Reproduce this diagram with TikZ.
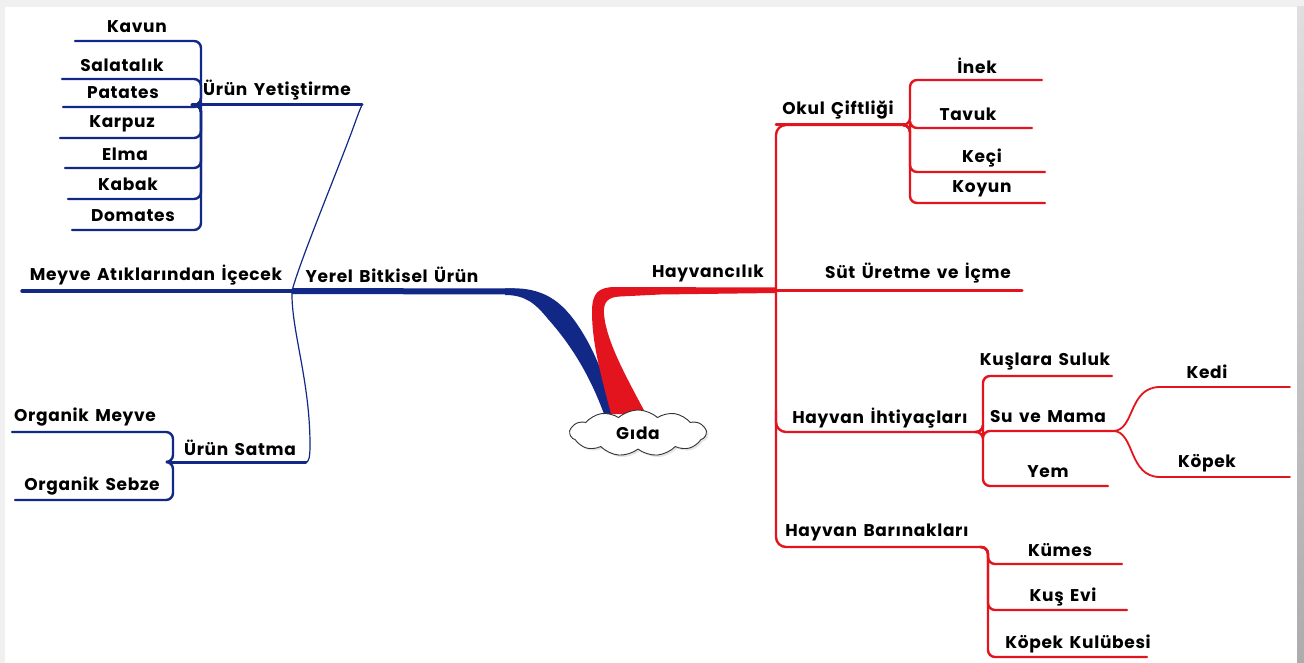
\documentclass[tikz,border=0pt]{standalone}
\usepackage{fontspec}
\setmainfont{Poppins}[LetterSpace=4, WordSpace=1.5]
\usetikzlibrary{shapes.symbols,calc,shadows}
\definecolor{navy}{RGB}{18,40,135}
\definecolor{rouge}{RGB}{228,20,30}
\begin{document}
\begin{tikzpicture}[x=1pt,y=-1pt,
  lbl/.style={font=\fontsize{17}{17}\selectfont\bfseries, inner sep=0pt},
  bl/.style={draw=navy, line width=2.4pt, line cap=round},
  rl/.style={draw=rouge, line width=2.4pt, line cap=round},
  brace/.style={rounded corners=7pt},
]
\useasboundingbox (0,0) rectangle (1304,663);
% page frame
\fill[gray!12] (0,0) rectangle (1304,663);
\fill[white] (5,7) rectangle (1297,663);
\shade[top color=gray!25, bottom color=gray!65] (1297,7) rectangle (1304,663);

% ---------- coordinates of the topic lines ----------
\coordinate (yerelL) at (292,291);
\coordinate (meyveIcL) at (22,291);
\coordinate (yetL) at (192,105);   \coordinate (yetR) at (362,105);
\coordinate (satL) at (170,462);   \coordinate (satR) at (306,462);
\coordinate (kavunL) at (75,41);
\coordinate (salatalikL) at (62,79);
\coordinate (patatesL) at (63,107);
\coordinate (karpuzL) at (60,138);
\coordinate (elmaL) at (65,168);
\coordinate (kabakL) at (68,199);
\coordinate (domatesL) at (72,230);
\coordinate (orgMeyveL) at (12,432);
\coordinate (orgSebzeL) at (15,500);

\coordinate (hayR) at (776,290);
\coordinate (trunkTop) at (776,125);
\coordinate (trunkBot) at (776,547);
\coordinate (okulR) at (905,125);
\coordinate (sutR) at (1022,290);
\coordinate (ihtJ) at (776,410);
\coordinate (ihtR) at (975,432);
\coordinate (barR) at (980,547);
\coordinate (inekR) at (1042,80);
\coordinate (tavukR) at (1032,128);
\coordinate (keciR) at (1045,172);
\coordinate (koyunR) at (1045,203);
\coordinate (sulukR) at (1112,376);
\coordinate (mamaR) at (1113,431);
\coordinate (yemR) at (1108,486);
\coordinate (kediR) at (1290,387);
\coordinate (kopekR) at (1290,477);
\coordinate (kumesR) at (1122,564);
\coordinate (kusevR) at (1127,610);
\coordinate (kulubeR) at (1147,657);

% ---------- main branches from the centre ----------
\draw[navy, line width=6pt] (yerelL) -- (515,291.5);
\fill[navy] (505,288.3) -- (513,288.3) .. controls (548,288.3) and (566,305) .. (584,335)
  .. controls (600,362) and (608,390) .. (616,414)
  -- (604,414) .. controls (590,376) and (572,346) .. (548,319)
  .. controls (535,303) and (525,295) .. (505,295) -- cycle;
\fill[rouge] (611,414) .. controls (600,372) and (592,342) .. (592,312)
  .. controls (592,293) and (598,287) .. (616,287) -- (hayR |- 0,287.5)
  -- (hayR |- 0,293) -- (660,294.5) -- (620,296.5)
  .. controls (608,297) and (603,302) .. (604,314)
  .. controls (606,340) and (625,375) .. (646,414) -- cycle;

\node[cloud, cloud puffs=11, cloud puff arc=85, aspect=3, draw=black!80,
  line width=0.9pt, fill=white, minimum width=136pt, minimum height=46pt,
  drop shadow={opacity=0.2, shadow xshift=2pt, shadow yshift=-2pt},
  font=\fontsize{17}{17}\selectfont\bfseries] (gida) at (638,433) {Gıda};

% ---------- left side ----------
\draw[bl, line width=3.4pt] (yerelL) -- (meyveIcL);
\draw[navy, line width=1.2pt] (yerelL) .. controls (300,260) and (342,160) .. (356,120)
  .. controls (360,109) and (362,105) .. (yetR);
\draw[navy, line width=1.2pt] (yerelL) .. controls (291,330) and (310,380) .. (310,445)
  .. controls (310,457) and (309,462) .. (satR);
\draw[bl, line width=3pt] (yetL) -- (yetR);
\draw[bl, line width=3pt] (satL) -- (satR);
\foreach \c in {kavunL,salatalikL,patatesL,karpuzL,elmaL,kabakL,domatesL}
  \draw[bl, brace] (yetL) -- ++(9,0) |- (\c);
\foreach \c in {orgMeyveL,orgSebzeL}
  \draw[bl, brace] (satL) -- ++(3,0) |- (\c);

% ---------- right side ----------
\draw[rl, rounded corners=10pt] (okulR) -- (trunkTop) -- (trunkBot) -- (barR);
\draw[rl, line width=3pt] (okulR) -- (trunkTop);
\draw[rl, line width=3pt] (hayR) -- (sutR);
\draw[rl, rounded corners=10pt] (ihtJ) |- (ihtR);
\foreach \c in {inekR,tavukR,keciR,koyunR}
  \draw[rl, brace] (okulR) -- ++(5,0) |- (\c);
\foreach \c in {sulukR,mamaR,yemR}
  \draw[rl, brace] (ihtR) -- ++(8,0) |- (\c);
\foreach \c in {kumesR,kusevR,kulubeR}
  \draw[rl, brace] (barR) -- ++(8,0) |- (\c);
\draw[rl, line width=1.8pt] (mamaR) .. controls (1135,431) and (1128,387) .. (1160,387) -- (kediR);
\draw[rl, line width=1.8pt] (mamaR) .. controls (1135,431) and (1128,477) .. (1160,477) -- (kopekR);

% ---------- labels ----------
\node[lbl] (yerel) at (392,275) {Yerel Bitkisel Ürün};
\node[lbl] (meyveIc) at (156,275) {Meyve Atıklarından İçecek};
\node[lbl] (yet) at (277,90) {Ürün Yetiştirme};
\node[lbl] (sat) at (240,448) {Ürün Satma};
\node[lbl] (kavun) at (137,27) {Kavun};
\node[lbl] (salatalik) at (122,65) {Salatalık};
\node[lbl] (patates) at (123,93) {Patates};
\node[lbl] (karpuz) at (122,124) {Karpuz};
\node[lbl] (elma) at (125,154) {Elma};
\node[lbl] (kabak) at (128,184) {Kabak};
\node[lbl] (domates) at (133,216) {Domates};
\node[lbl] (orgMeyve) at (85,417) {Organik Meyve};
\node[lbl] (orgSebze) at (92,486) {Organik Sebze};

\node[lbl] (hay) at (708,273) {Hayvancılık};
\node[lbl] (okul) at (838,110) {Okul Çiftliği};
\node[lbl] (sut) at (918,273) {Süt Üretme ve İçme};
\node[lbl] (iht) at (880,418) {Hayvan İhtiyaçları};
\node[lbl] (bar) at (877,532) {Hayvan Barınakları};
\node[lbl] (inek) at (977,66) {İnek};
\node[lbl] (tavuk) at (968,114) {Tavuk};
\node[lbl] (keci) at (982,158) {Keçi};
\node[lbl] (koyun) at (982,189) {Koyun};
\node[lbl] (suluk) at (1045,362) {Kuşlara Suluk};
\node[lbl] (mama) at (1048,417) {Su ve Mama};
\node[lbl] (yem) at (1048,472) {Yem};
\node[lbl] (kedi) at (1207,372) {Kedi};
\node[lbl] (kopek) at (1207,463) {Köpek};
\node[lbl] (kumes) at (1060,550) {Kümes};
\node[lbl] (kusev) at (1063,597) {Kuş Evi};
\node[lbl] (kulube) at (1078,644) {Köpek Kulübesi};
\end{tikzpicture}
\end{document}
